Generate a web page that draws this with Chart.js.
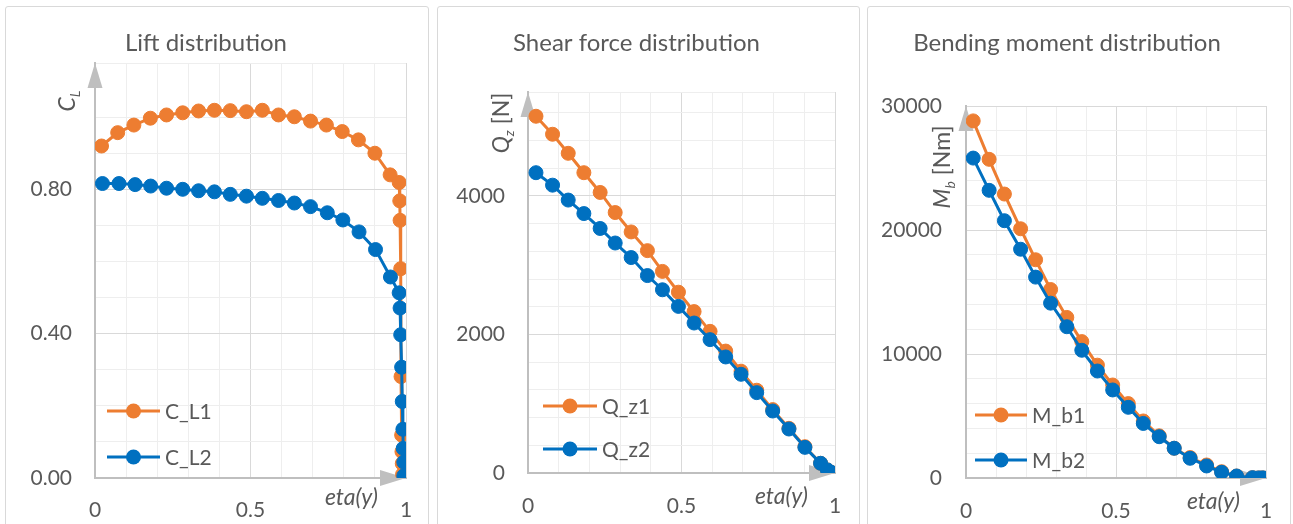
<!DOCTYPE html>
<html>
<head>
<meta charset="utf-8">
<script src="https://cdn.jsdelivr.net/npm/chart.js@4.4.0/dist/chart.umd.min.js"></script>
<style>
  body { margin: 0; background: #fff; overflow: hidden; }
  .panel { position: absolute; top: 6px; height: 540px; border: 1px solid #d9d9d9; border-radius: 3px; background: #fff; }
  .panel canvas { display: block; }
</style>
</head>
<body>
<div class="panel" style="left:5px;width:422px"><canvas id="chart1" width="422" height="530"></canvas></div>
<div class="panel" style="left:437px;width:421px"><canvas id="chart2" width="421" height="530"></canvas></div>
<div class="panel" style="left:867px;width:422px"><canvas id="chart3" width="422" height="530"></canvas></div>
<script>
// spanwise coordinate ticks (shared by all three charts)
const etaTicks = [0, 0.1, 0.2, 0.3, 0.4, 0.5, 0.6, 0.7, 0.8, 0.9, 1];
const etaLabels = ['0', '', '', '', '', '0.5', '', '', '', '', '1'];

// Lift distribution
const liftEta1 = [0.021, 0.073, 0.125, 0.178, 0.230, 0.282, 0.333, 0.384, 0.435, 0.487, 0.538, 0.590, 0.641, 0.693, 0.744, 0.795, 0.847, 0.900, 0.949, 0.978, 0.980, 0.981, 0.983, 0.984, 0.986, 0.987, 0.988, 0.989];
const liftCL1 = [0.920, 0.957, 0.978, 0.997, 1.006, 1.012, 1.017, 1.019, 1.018, 1.015, 1.019, 1.006, 1.001, 0.989, 0.978, 0.960, 0.937, 0.900, 0.840, 0.819, 0.768, 0.714, 0.580, 0.281, 0.119, 0.073, 0.040, 0.010];
const liftEta2 = [0.024, 0.077, 0.129, 0.179, 0.230, 0.282, 0.333, 0.384, 0.435, 0.487, 0.538, 0.590, 0.641, 0.693, 0.747, 0.797, 0.849, 0.902, 0.950, 0.978, 0.981, 0.983, 0.986, 0.988, 0.990, 0.991, 0.993, 0.993];
const liftCL2 = [0.816, 0.816, 0.813, 0.809, 0.803, 0.800, 0.796, 0.793, 0.786, 0.781, 0.775, 0.769, 0.762, 0.752, 0.735, 0.715, 0.682, 0.633, 0.557, 0.513, 0.471, 0.397, 0.307, 0.212, 0.135, 0.082, 0.044, 0.006];
const liftTicks = [0, 0.1, 0.2, 0.3, 0.4, 0.5, 0.6, 0.7, 0.8, 0.9, 1.0, 1.15];
const liftLabels = ['0.00', '', '', '', '0.40', '', '', '', '0.80', '', '', ''];

// Shear force distribution
const shearEta = [0.026, 0.080, 0.131, 0.182, 0.235, 0.284, 0.336, 0.389, 0.438, 0.490, 0.541, 0.593, 0.644, 0.694, 0.745, 0.797, 0.850, 0.902, 0.953, 0.975, 0.986, 0.992];
const shearQ1 = [5150, 4890, 4615, 4335, 4050, 3760, 3480, 3210, 2910, 2610, 2330, 2045, 1760, 1470, 1195, 915, 645, 380, 140, 45, 12, 0];
const shearQ2 = [4335, 4155, 3940, 3745, 3530, 3320, 3110, 2850, 2645, 2405, 2165, 1925, 1675, 1425, 1160, 895, 635, 370, 140, 45, 12, 0];
const shearTicks = [0, 400, 800, 1200, 1600, 2000, 2400, 2800, 3200, 3600, 4000, 4400, 4800, 5200, 5500];
const shearLabels = ['0', '', '', '', '', '2000', '', '', '', '', '4000', '', '', '', ''];

// Bending moment distribution
const bendEta = [0.024, 0.077, 0.128, 0.182, 0.232, 0.282, 0.336, 0.386, 0.438, 0.489, 0.541, 0.591, 0.644, 0.694, 0.747, 0.802, 0.852, 0.902, 0.955, 0.975, 0.986, 0.992];
const bendM1 = [28800, 25700, 22900, 20100, 17600, 15200, 12950, 11000, 9100, 7500, 6000, 4600, 3400, 2400, 1650, 1050, 510, 160, 30, 8, 2, 0];
const bendM2 = [25800, 23200, 20750, 18450, 16200, 14100, 12200, 10300, 8630, 7100, 5700, 4400, 3330, 2400, 1590, 970, 460, 160, 30, 8, 2, 0];
const bendTicks = [0, 2000, 4000, 6000, 8000, 10000, 12000, 14000, 16000, 18000, 20000, 22000, 24000, 26000, 28000, 30000];
const bendLabels = ['0', '', '', '', '', '10000', '', '', '', '', '20000', '', '', '', '', '30000'];

const ORANGE = '#ED7D31';
const BLUE = '#0070C0';
const TEXT = '#595959';
const AXIS = '#bfbfbf';

Chart.defaults.font.family = 'Lato, "Open Sans", sans-serif';
Chart.defaults.color = TEXT;

function fontOf(seg) {
  return (seg.italic ? 'italic ' : '') + (seg.sub ? 14 : 23) + 'px Lato';
}

// axis arrows, axis titles and the inside legend
const decor = {
  id: 'decor',
  beforeDatasetsDraw(chart, args, o) {
    const { ctx, chartArea: a } = chart;
    ctx.save();
    ctx.fillStyle = AXIS;
    ctx.beginPath();
    ctx.moveTo(a.left, a.top);
    ctx.lineTo(a.left - 7.5, a.top + 25);
    ctx.lineTo(a.left + 7.5, a.top + 25);
    ctx.fill();
    ctx.beginPath();
    ctx.moveTo(a.right, a.bottom);
    ctx.lineTo(a.right - 26, a.bottom - 8);
    ctx.lineTo(a.right - 26, a.bottom + 8);
    ctx.fill();

    // y title, rotated, with subscript
    ctx.translate(o.yTitle.x, o.yTitle.y);
    ctx.rotate(-Math.PI / 2);
    ctx.fillStyle = TEXT;
    ctx.textBaseline = 'middle';
    let w = 0;
    o.yTitle.segs.forEach(s => { ctx.font = fontOf(s); w += ctx.measureText(s.text).width; });
    let x = -w / 2;
    o.yTitle.segs.forEach(s => {
      ctx.font = fontOf(s);
      ctx.fillText(s.text, x, s.sub ? 7 : 0);
      x += ctx.measureText(s.text).width;
    });
    ctx.restore();

    ctx.save();
    ctx.fillStyle = TEXT;
    ctx.font = 'italic 23px Lato';
    ctx.textAlign = 'right';
    ctx.textBaseline = 'middle';
    ctx.fillText('eta(y)', a.right - o.xTitle.dx, a.bottom + o.xTitle.dy);
    ctx.restore();
  },
  afterDraw(chart, args, o) {
    const { ctx, chartArea: a } = chart;
    ctx.save();
    chart.data.datasets.forEach((ds, i) => {
      const y = a.bottom + o.legend.rows[i];
      const x0 = a.left + o.legend.x;
      ctx.strokeStyle = ds.borderColor;
      ctx.fillStyle = ds.borderColor;
      ctx.lineWidth = 3;
      ctx.beginPath();
      ctx.moveTo(x0, y);
      ctx.lineTo(x0 + o.legend.len, y);
      ctx.stroke();
      ctx.beginPath();
      ctx.arc(x0 + o.legend.len / 2, y, 7.5, 0, Math.PI * 2);
      ctx.fill();
      ctx.fillStyle = TEXT;
      ctx.font = '21px Lato';
      ctx.textBaseline = 'middle';
      ctx.fillText(ds.label, x0 + o.legend.len + 5, y + 1);
    });
    ctx.restore();
  }
};

function series(label, xs, ys, color, order) {
  return {
    label,
    data: xs.map((x, i) => ({ x, y: ys[i] })),
    borderColor: color,
    backgroundColor: color,
    pointBackgroundColor: color,
    pointBorderColor: color,
    borderWidth: 3,
    pointRadius: 7,
    pointBorderWidth: 1,
    tension: 0,
    order
  };
}

function createChart(id, title, datasets, y, lay, decorOpts) {
  new Chart(document.getElementById(id), {
    type: 'line',
    data: { datasets },
    plugins: [decor],
    options: {
      responsive: false,
      animation: false,
      layout: { padding: { left: 0, right: lay.right, top: 0, bottom: 0 } },
      plugins: {
        legend: { display: false },
        tooltip: { enabled: false },
        title: {
          display: true,
          text: title,
          color: TEXT,
          font: { size: 24, weight: 'normal', lineHeight: 1.2 },
          padding: { top: 22, bottom: lay.top - 22 - 28.8 }
        },
        decor: decorOpts
      },
      scales: {
        x: {
          type: 'linear',
          min: 0,
          max: 1,
          afterBuildTicks: s => { s.ticks = etaTicks.map(v => ({ value: v })); },
          afterFit: s => { s.height = 530 - lay.bottom; },
          // invisible tick marks push the labels down without widening the side padding
          grid: { color: c => etaLabels[c.index] ? '#d9d9d9' : '#eeeeee', drawTicks: true,
                  tickLength: lay.xPad, tickColor: 'rgba(0,0,0,0)' },
          border: { color: AXIS, width: 2 },
          ticks: { autoSkip: false, maxRotation: 0, padding: 0, color: TEXT, font: { size: 21 },
                   callback: (v, i) => etaLabels[i] }
        },
        y: {
          type: 'linear',
          min: y.ticks[0],
          max: y.ticks[y.ticks.length - 1],
          afterBuildTicks: s => { s.ticks = y.ticks.map(v => ({ value: v })); },
          afterFit: s => { s.width = lay.left; },
          grid: { color: c => y.labels[c.index] ? '#d9d9d9' : '#eeeeee', drawTicks: false },
          border: { color: AXIS, width: 2 },
          ticks: { autoSkip: false, padding: lay.yPad, color: TEXT, font: { size: 21 },
                   callback: (v, i) => y.labels[i] }
        }
      }
    }
  });
}

createChart('chart1', 'Lift distribution',
  [series('C_L1', liftEta1, liftCL1, ORANGE, 2), series('C_L2', liftEta2, liftCL2, BLUE, 1)],
  { ticks: liftTicks, labels: liftLabels },
  { left: 89, right: 22, top: 56, bottom: 471, xPad: 20, yPad: 23 },
  { yTitle: { x: 62, y: 94, segs: [{ text: 'C', italic: true }, { text: 'L', italic: true, sub: true }] },
    xTitle: { dx: 28, dy: 20 },
    legend: { x: 12, rows: [-67, -21], len: 53 } });

createChart('chart2', 'Shear force distribution',
  [series('Q_z1', shearEta, shearQ1, ORANGE, 2), series('Q_z2', shearEta, shearQ2, BLUE, 1)],
  { ticks: shearTicks, labels: shearLabels },
  { left: 90, right: 24, top: 85, bottom: 466, xPad: 21, yPad: 23 },
  { yTitle: { x: 64, y: 116, segs: [{ text: 'Q', italic: true }, { text: 'z', italic: true, sub: true }, { text: ' [N]' }] },
    xTitle: { dx: 27, dy: 24 },
    legend: { x: 15, rows: [-67, -24], len: 54 } });

createChart('chart3', 'Bending moment distribution',
  [series('M_b1', bendEta, bendM1, ORANGE, 2), series('M_b2', bendEta, bendM2, BLUE, 1)],
  { ticks: bendTicks, labels: bendLabels },
  { left: 98, right: 24, top: 99, bottom: 471, xPad: 21, yPad: 24 },
  { yTitle: { x: 75, y: 160, segs: [{ text: 'M', italic: true }, { text: 'b', italic: true, sub: true }, { text: ' [Nm]' }] },
    xTitle: { dx: 26, dy: 24 },
    legend: { x: 9, rows: [-63, -18], len: 52 } });
</script>
</body>
</html>
